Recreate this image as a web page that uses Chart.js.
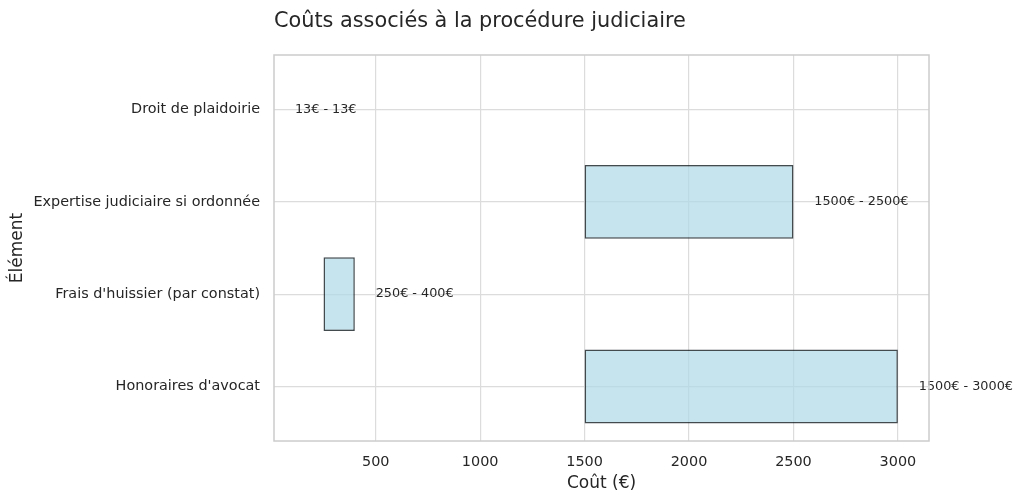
<!DOCTYPE html>
<html>
<head>
<meta charset="utf-8">
<script src="https://cdn.jsdelivr.net/npm/chart.js@4"></script>
<style>
  html, body { margin: 0; padding: 0; background: #ffffff; }
  #wrap { width: 1024px; height: 503px; position: relative; }
</style>
</head>
<body>
<div id="wrap"><canvas id="c"></canvas></div>
<script>
// ---- data (bottom-to-top order, as in the original) ----
const categories = ["Honoraires d'avocat", "Frais d'huissier (par constat)", "Expertise judiciaire si ordonnée", "Droit de plaidoirie"];
const costMin = [1500, 250, 1500, 13];
const costMax = [3000, 400, 2500, 13];
const xTickValues = [500, 1000, 1500, 2000, 2500, 3000];
const chartTitle = "Coûts associés à la procédure judiciaire";
const xTitle = "Coût (€)";
const yTitle = "Élément";

const FONT = "'DejaVu Sans', sans-serif";
const TEXT = '#262626';

const barData = categories.map((c, i) => ({ x: [costMin[i], costMax[i]], y: i }));

const labelPlugin = {
  id: 'extras',
  afterDraw(chart) {
    const ctx = chart.ctx;
    const xs = chart.scales.x, ys = chart.scales.y;
    ctx.save();
    // bar range labels
    ctx.font = "12.8px " + FONT;
    ctx.fillStyle = TEXT;
    ctx.textAlign = 'left';
    ctx.textBaseline = 'middle';
    categories.forEach((c, i) => {
      ctx.fillText(costMin[i] + '€ - ' + costMax[i] + '€', xs.getPixelForValue(costMax[i] + 100), ys.getPixelForValue(i));
    });
    // chart title
    ctx.font = "20.8px " + FONT;
    ctx.textBaseline = 'alphabetic';
    ctx.fillText(chartTitle, chart.chartArea.left, 26.5);
    // frame
    const a = chart.chartArea;
    ctx.strokeStyle = '#cccccc';
    ctx.lineWidth = 1.5;
    ctx.strokeRect(a.left, a.top, a.right - a.left, a.bottom - a.top);
    ctx.restore();
  }
};

new Chart(document.getElementById('c'), {
  type: 'bar',
  data: {
    datasets: [{
      data: barData,
      backgroundColor: 'rgba(173,216,230,0.7)',
      borderColor: 'rgba(20,30,35,0.8)',
      borderWidth: 1.5,
      borderSkipped: false,
      barPercentage: 0.8,
      categoryPercentage: 1.0
    }]
  },
  options: {
    indexAxis: 'y',
    responsive: true,
    maintainAspectRatio: false,
    animation: false,
    devicePixelRatio: 1,
    layout: { padding: { top: 55, right: 95, bottom: 0, left: 0 } },
    plugins: { legend: { display: false }, tooltip: { enabled: false }, title: { display: false } },
    scales: {
      x: {
        type: 'linear',
        min: 13,
        max: 3149,
        offset: false,
        afterFit(s) { s.height = 62; },
        afterBuildTicks(s) { s.ticks = xTickValues.map(v => ({ value: v })); },
        grid: { color: '#dcdcdc', lineWidth: 1.2, drawTicks: false, offset: false },
        border: { display: false },
        ticks: { color: TEXT, font: { family: FONT, size: 14.4 }, padding: 13, callback: v => String(v) },
        title: { display: true, text: xTitle, color: TEXT, font: { family: FONT, size: 17, lineHeight: 1.2 }, padding: { top: 4, bottom: 9 } }
      },
      y: {
        type: 'linear',
        min: -0.59,
        max: 3.59,
        offset: false,
        afterFit(s) { s.width = 274; },
        afterBuildTicks(s) { s.ticks = categories.map((c, i) => ({ value: i })); },
        grid: { color: '#dcdcdc', lineWidth: 1.2, drawTicks: false, offset: false },
        border: { display: false },
        ticks: { color: TEXT, font: { family: FONT, size: 14.4 }, padding: 14, callback: v => categories[v] },
        title: { display: true, text: yTitle, color: TEXT, font: { family: FONT, size: 17, lineHeight: 1.2 }, padding: { top: 7, bottom: 4 } }
      }
    }
  },
  plugins: [labelPlugin]
});
</script>
</body>
</html>
